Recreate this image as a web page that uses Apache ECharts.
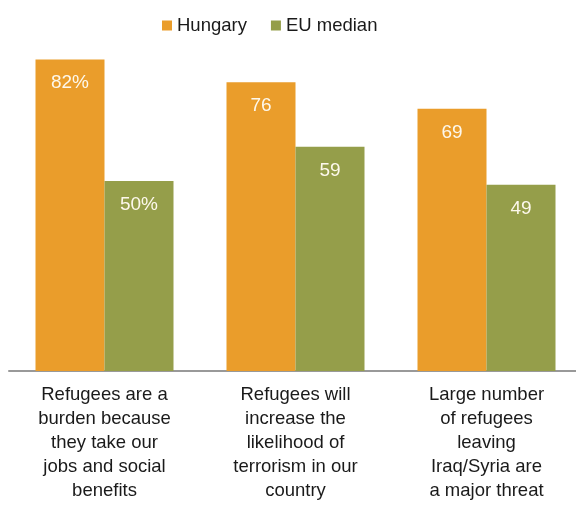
<!DOCTYPE html>
<html>
<head>
<meta charset="utf-8">
<script src="https://cdn.jsdelivr.net/npm/echarts@6/dist/echarts.min.js"></script>
<style>html,body{margin:0;padding:0;background:#fff;overflow:hidden}#c{width:600px;height:507px}</style>
</head>
<body>
<div id="c"></div>
<script>
const categories = [
  "Refugees are a\nburden because\nthey take our\njobs and social\nbenefits",
  "Refugees will\nincrease the\nlikelihood of\nterrorism in our\ncountry",
  "Large number\nof refugees\nleaving\nIraq/Syria are\na major threat"
];
const seriesNames = ["Hungary", "EU median"];
const hungary = [82, 76, 69];
const euMedian = [50, 59, 49];

const chart = echarts.init(document.getElementById('c'));
const fontFam = '"Liberation Sans", Arial, sans-serif';
function lbl(p){ return p.dataIndex === 0 ? p.value + '%' : String(p.value); }
chart.setOption({
  animation: false,
  textStyle: { fontFamily: fontFam },
  legend: {
    top: 11, left: 157,
    itemWidth: 10, itemHeight: 10, itemGap: 24,
    icon: 'rect',
    textStyle: { fontSize: 18.5, color: '#1a1a1a', fontFamily: fontFam },
    data: seriesNames
  },
  grid: { left: 9, width: 573, top: 29, height: 342 },
  xAxis: {
    type: 'category', data: categories,
    axisLine: { lineStyle: { color: '#999', width: 2 } },
    axisTick: { show: false },
    axisLabel: { color: '#1a1a1a', fontSize: 18.5, lineHeight: 24, margin: 12, interval: 0, fontFamily: fontFam }
  },
  yAxis: { type: 'value', min: 0, max: 90, show: false, splitLine: { show: false } },
  series: [
    { name: seriesNames[0], type: 'bar', data: hungary, barWidth: 69, barGap: 0,
      itemStyle: { color: '#EA9D2B' },
      label: { show: true, position: 'insideTop', distance: 14, color: '#fdf8ec', fontSize: 19, formatter: lbl, fontFamily: fontFam } },
    { name: seriesNames[1], type: 'bar', data: euMedian, barWidth: 69, barGap: 0,
      itemStyle: { color: '#959E4A' },
      label: { show: true, position: 'insideTop', distance: 14, color: '#fdf8ec', fontSize: 19, formatter: lbl, fontFamily: fontFam } }
  ]
});
</script>
</body>
</html>
